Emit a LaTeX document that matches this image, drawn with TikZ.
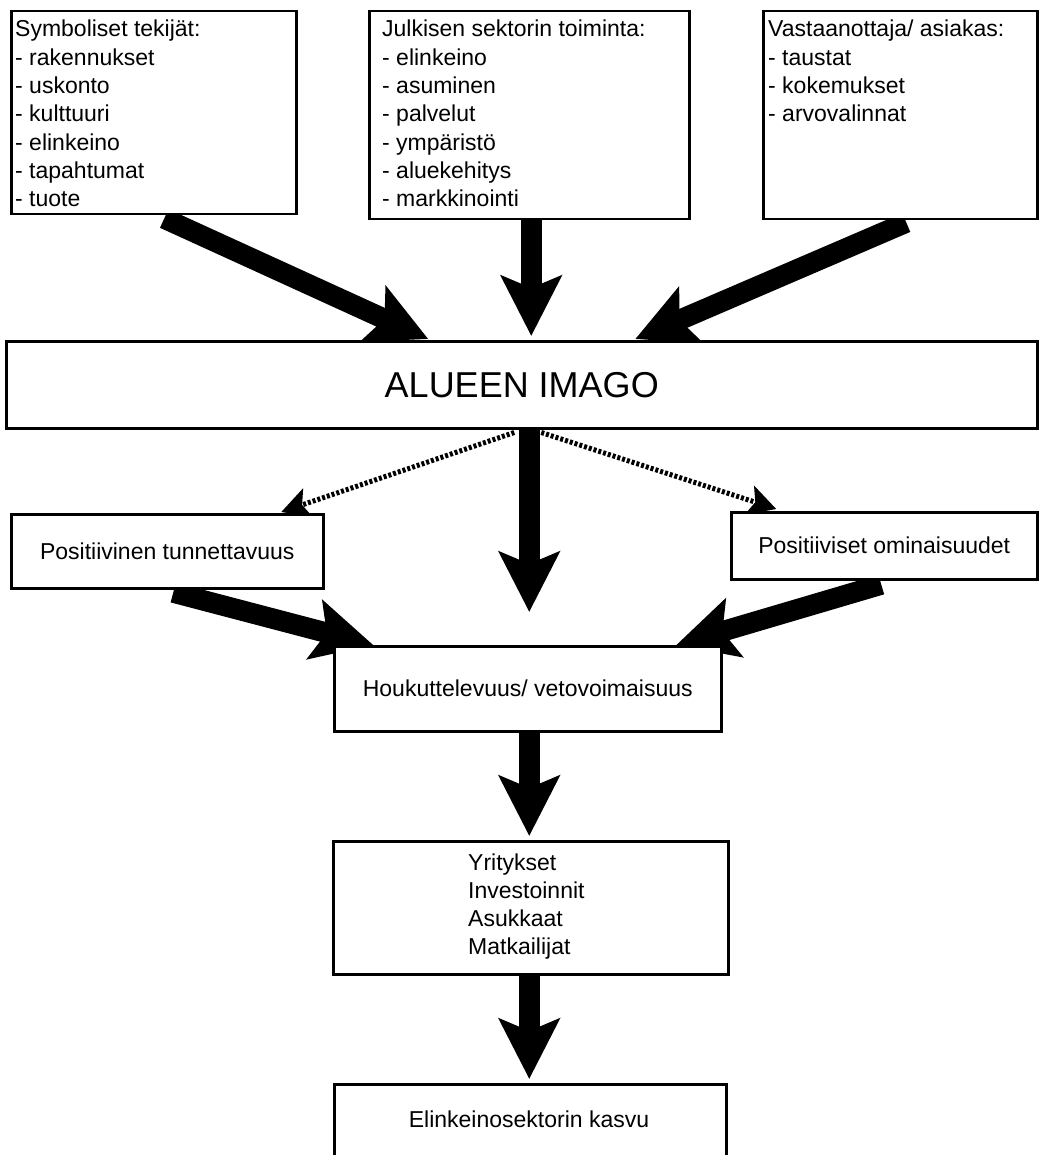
\documentclass[tikz,border=0pt]{standalone}
\usepackage{fontspec}
\setmainfont{Liberation Sans}
\usetikzlibrary{arrows.meta,calc}
\pgfdeclarelayer{bg}
\pgfsetlayers{bg,main}
\newcommand{\lines}[1]{\begin{tabular}[t]{@{}l@{}}#1\end{tabular}}
\begin{document}
\begin{tikzpicture}[x=1pt,y=-1pt,
  box/.style={draw, line width=2.5pt, fill=white, inner sep=0pt, anchor=north west,
    font=\fontsize{23}{28.3}\selectfont},
  txt/.style={inner sep=0pt, anchor=base west, font=\fontsize{23}{28.3}\selectfont},
  big/.style={line width=20.5pt, -{Stealth[length=60pt,width=60pt,inset=12pt]}},
  dots/.style={line width=5pt, dash pattern=on 3pt off 2pt,
    -{Stealth[length=28pt,width=30pt,inset=6pt]}}]
\useasboundingbox (0,0) rectangle (1040,1155);
\clip (0,0) rectangle (1040,1155);

% boxes
\node[box, minimum width=285pt, minimum height=203pt] (sym) at (10,10) {};
\node[box, minimum width=320pt, minimum height=208pt] (jul) at (368,10) {};
\node[box, minimum width=274pt, minimum height=208pt] (vas) at (762,10) {};
\node[box, minimum width=1031pt, minimum height=87pt, font=\fontsize{36}{40}\selectfont] (img) at (5,340) {ALUEEN IMAGO};
\node[box, minimum width=312pt, minimum height=74pt] (pt) at (10,513) {Positiivinen tunnettavuus};
\node[box, minimum width=306pt, minimum height=67pt] (po) at (730,511) {Positiiviset ominaisuudet};
\node[box, minimum width=387pt, minimum height=85pt] (hou) at (333,645) {Houkuttelevuus/ vetovoimaisuus};
\node[box, minimum width=395pt, minimum height=133pt] (yri) at (332,840) {};
\node[box, minimum width=392pt, minimum height=90pt] (eli) at (333,1083) {};

% texts
\node[txt] (symt) at (15,37) {\lines{Symboliset tekijät:\\- rakennukset\\- uskonto\\- kulttuuri\\- elinkeino\\- tapahtumat\\- tuote}};
\node[txt] (jult) at (382,37) {\lines{Julkisen sektorin toiminta:\\- elinkeino\\- asuminen\\- palvelut\\- ympäristö\\- aluekehitys\\- markkinointi}};
\node[txt] (vast) at (768,37) {\lines{Vastaanottaja/ asiakas:\\- taustat\\- kokemukset\\- arvovalinnat}};
\node[txt] (yrit) at (468,870) {\lines{Yritykset\\Investoinnit\\Asukkaat\\Matkailijat}};
\node[txt, anchor=base] (elit) at (529,1127) {Elinkeinosektorin kasvu};

% connectors
\begin{pgfonlayer}{bg}
\draw[big] ($(sym.south)+(10.5,3)$) -- ($(img.north)+(-93.5,-1)$);
\draw[big] ($(jul.south)+(2,0)$) -- ($(img.north)+(9.5,-4)$);
\draw[big] ($(vas.south)+(6,2)$) -- ($(img.north)+(113.5,-1)$);
\draw[big] ($(img.south)+(7.5,0)$) -- ($(hou.north)+(1.5,-33)$);
\draw[dots] ($(img.south)+(-7.5,3)$) -- ($(pt.north)+(114,-1)$);
\draw[dots] ($(img.south)+(19.5,3)$) -- ($(po.north)+(-108,-2)$);
\draw[big] ($(pt.south)+(6,3)$) -- ($(hou.north)+(-154.5,0)$);
\draw[big] ($(po.south)+(-3,4)$) -- ($(hou.north)+(148.5,0)$);
\draw[big] ($(hou.south)+(1.5,0)$) -- ($(yri.north)+(-1.5,-4)$);
\draw[big] ($(yri.south)+(-1.5,0)$) -- ($(eli.north)+(-1,-4)$);
\end{pgfonlayer}
\end{tikzpicture}
\end{document}
